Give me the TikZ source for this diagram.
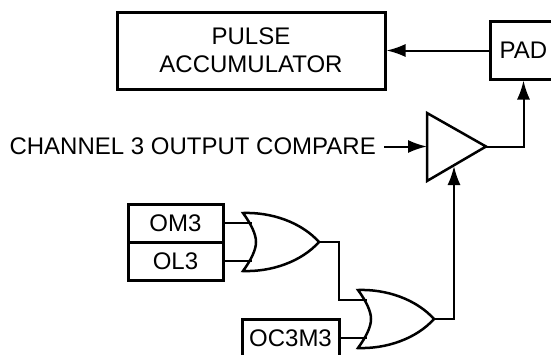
\documentclass[tikz,border=0pt]{standalone}
\usepackage{fontspec}
\setmainfont{Liberation Sans}
\usetikzlibrary{arrows.meta, positioning}
\tikzset{
  x=1pt, y=-1pt,
  lbl/.style={font=\fontsize{24}{28}\selectfont, inner sep=0pt},
  regbox/.style={lbl, draw, line width=3pt, inner sep=0pt, align=center},
  wire/.style={line width=2pt},
  sig/.style={wire, -{Latex[length=19pt, width=13pt]}},
  gate/.style={line width=2.5pt, line join=miter},
  orgate/.pic={
    \draw[gate] (-38,-29) .. controls (-10,-30) and (20,-20) .. (38,0)
      .. controls (20,20) and (-10,30) .. (-38,29)
      .. controls (-30,18) and (-25,8) .. (-25,0)
      .. controls (-25,-8) and (-30,-18) .. (-38,-29) -- cycle;
    \coordinate (-a) at (-29,-19);
    \coordinate (-b) at (-29,19);
    \coordinate (-y) at (38,0);
  }
}
\begin{document}
\begin{tikzpicture}
  \useasboundingbox (0,0) rectangle (551,354);

  % ---- Registers -----------------------------------------------------------
  \node[regbox, minimum width=268pt, minimum height=77pt] (accum) at (251,50.5) {PULSE\\ACCUMULATOR};
  \node[regbox, minimum width=67pt, minimum height=58pt] (pad) at (523.5,50) {PAD};
  \node[regbox, minimum width=95pt, minimum height=38pt] (om3) at (175.5,223) {OM3};
  \node[regbox, minimum width=95pt, minimum height=38pt] (ol3) at (175.5,261) {OL3};
  \node[regbox, minimum width=97pt, minimum height=38pt] (oc3m3) at (290.5,338) {OC3M3};
  \node[lbl, anchor=east] (chan) at (376,146.5) {CHANNEL 3 OUTPUT COMPARE};

  % ---- Output driver -------------------------------------------------------
  \coordinate (drvin) at (427,146.5);
  \coordinate (drvout) at (486,146.5);
  \coordinate (drven) at (454,166);
  \draw[gate] (427,113) -- (drvout) -- (427,181) -- cycle;

  % ---- The two gates -------------------------------------------------------
  \pic (ora) at (281,242) {orgate};
  \pic (orb) at (396,319) {orgate};

  % ---- Connectors ----------------------------------------------------------
  \draw[sig] (pad.west |- accum.east) -- (accum.east);
  \draw[sig] (drvout) -| (pad.south);
  \draw[sig] (chan.east) ++(8,0) -- (drvin);
  \draw[wire] (om3.east) -- (ora-a);
  \draw[wire] (ol3.east) -- (ora-b);
  \draw[wire] (ora-y) -| (339,300) -- (orb-a);
  \draw[wire] (oc3m3.east) -- (orb-b);
  \draw[sig] (orb-y) -| (drven);

\end{tikzpicture}
\end{document}
